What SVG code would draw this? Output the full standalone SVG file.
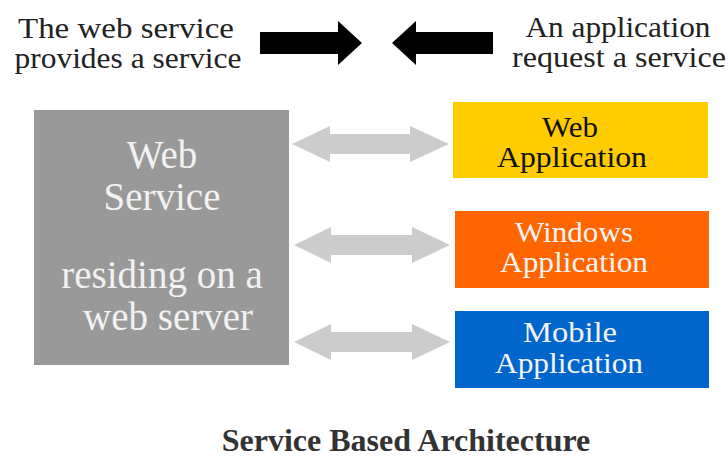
<svg xmlns="http://www.w3.org/2000/svg" width="728" height="457" viewBox="0 0 728 457">
  <style>
    text { font-family: "Liberation Serif", "Times New Roman", serif; text-anchor: middle; }
    .caption { font-size: 30px; fill: #222222; }
    .big { font-size: 39px; fill: #f2f2f2; }
    .app { font-size: 29px; }
    .dark { fill: #111111; }
    .light { fill: #f4f4f4; }
    .title { font-size: 32px; font-weight: bold; fill: #333333; }
    .link { fill: #cccccc; }
    .pointer { fill: #000000; }
  </style>

  <rect width="728" height="457" fill="#ffffff"/>

  <!-- captions with direction arrows -->
  <g id="provider-caption">
    <text class="caption" x="126" y="38" textLength="216" lengthAdjust="spacingAndGlyphs">The web service</text>
    <text class="caption" x="128" y="68" textLength="227" lengthAdjust="spacingAndGlyphs">provides a service</text>
  </g>
  <g id="consumer-caption">
    <text class="caption" x="618" y="37" textLength="185" lengthAdjust="spacingAndGlyphs">An application</text>
    <text class="caption" x="619" y="67" textLength="214" lengthAdjust="spacingAndGlyphs">request a service</text>
  </g>
  <g id="direction-arrows">
    <polygon class="pointer" points="260,32 338,32 338,21 362,43 338,65 338,54 260,54"/>
    <polygon class="pointer" points="493,32 416,32 416,21 392,43 416,65 416,54 493,54"/>
  </g>

  <!-- service node -->
  <g id="web-service">
    <rect x="34" y="110" width="255" height="255" fill="#999999"/>
    <text class="big" x="162" y="168">Web</text>
    <text class="big" x="162" y="210">Service</text>
    <text class="big" x="162" y="288">residing on a</text>
    <text class="big" x="168" y="330">web server</text>
  </g>

  <!-- client nodes -->
  <g id="web-application">
    <rect x="453" y="102" width="255" height="76" fill="#ffcc00"/>
    <text class="app dark" x="570" y="137" textLength="56" lengthAdjust="spacingAndGlyphs">Web</text>
    <text class="app dark" x="572" y="167" textLength="150" lengthAdjust="spacingAndGlyphs">Application</text>
  </g>
  <g id="windows-application">
    <rect x="455" y="211" width="254" height="77" fill="#ff6600"/>
    <text class="app light" x="574" y="242" textLength="118" lengthAdjust="spacingAndGlyphs">Windows</text>
    <text class="app light" x="574" y="272" textLength="148" lengthAdjust="spacingAndGlyphs">Application</text>
  </g>
  <g id="mobile-application">
    <rect x="455" y="311" width="254" height="77" fill="#0066cc"/>
    <text class="app light" x="570" y="342" textLength="94" lengthAdjust="spacingAndGlyphs">Mobile</text>
    <text class="app light" x="569" y="373" textLength="148" lengthAdjust="spacingAndGlyphs">Application</text>
  </g>

  <!-- two-way links between service and clients -->
  <g id="connectors">
    <polygon class="link" points="292,144 330,126 330,134 410,134 410,126 449,144 410,162 410,154 330,154 330,162"/>
    <polygon class="link" points="294,245 331,227 331,235 412,235 412,227 450,245 412,263 412,255 331,255 331,263"/>
    <polygon class="link" points="294,342 331,324 331,332 412,332 412,324 450,342 412,360 412,352 331,352 331,360"/>
  </g>

  <g id="title">
    <text class="title" x="406" y="451">Service Based Architecture</text>
  </g>
</svg>
